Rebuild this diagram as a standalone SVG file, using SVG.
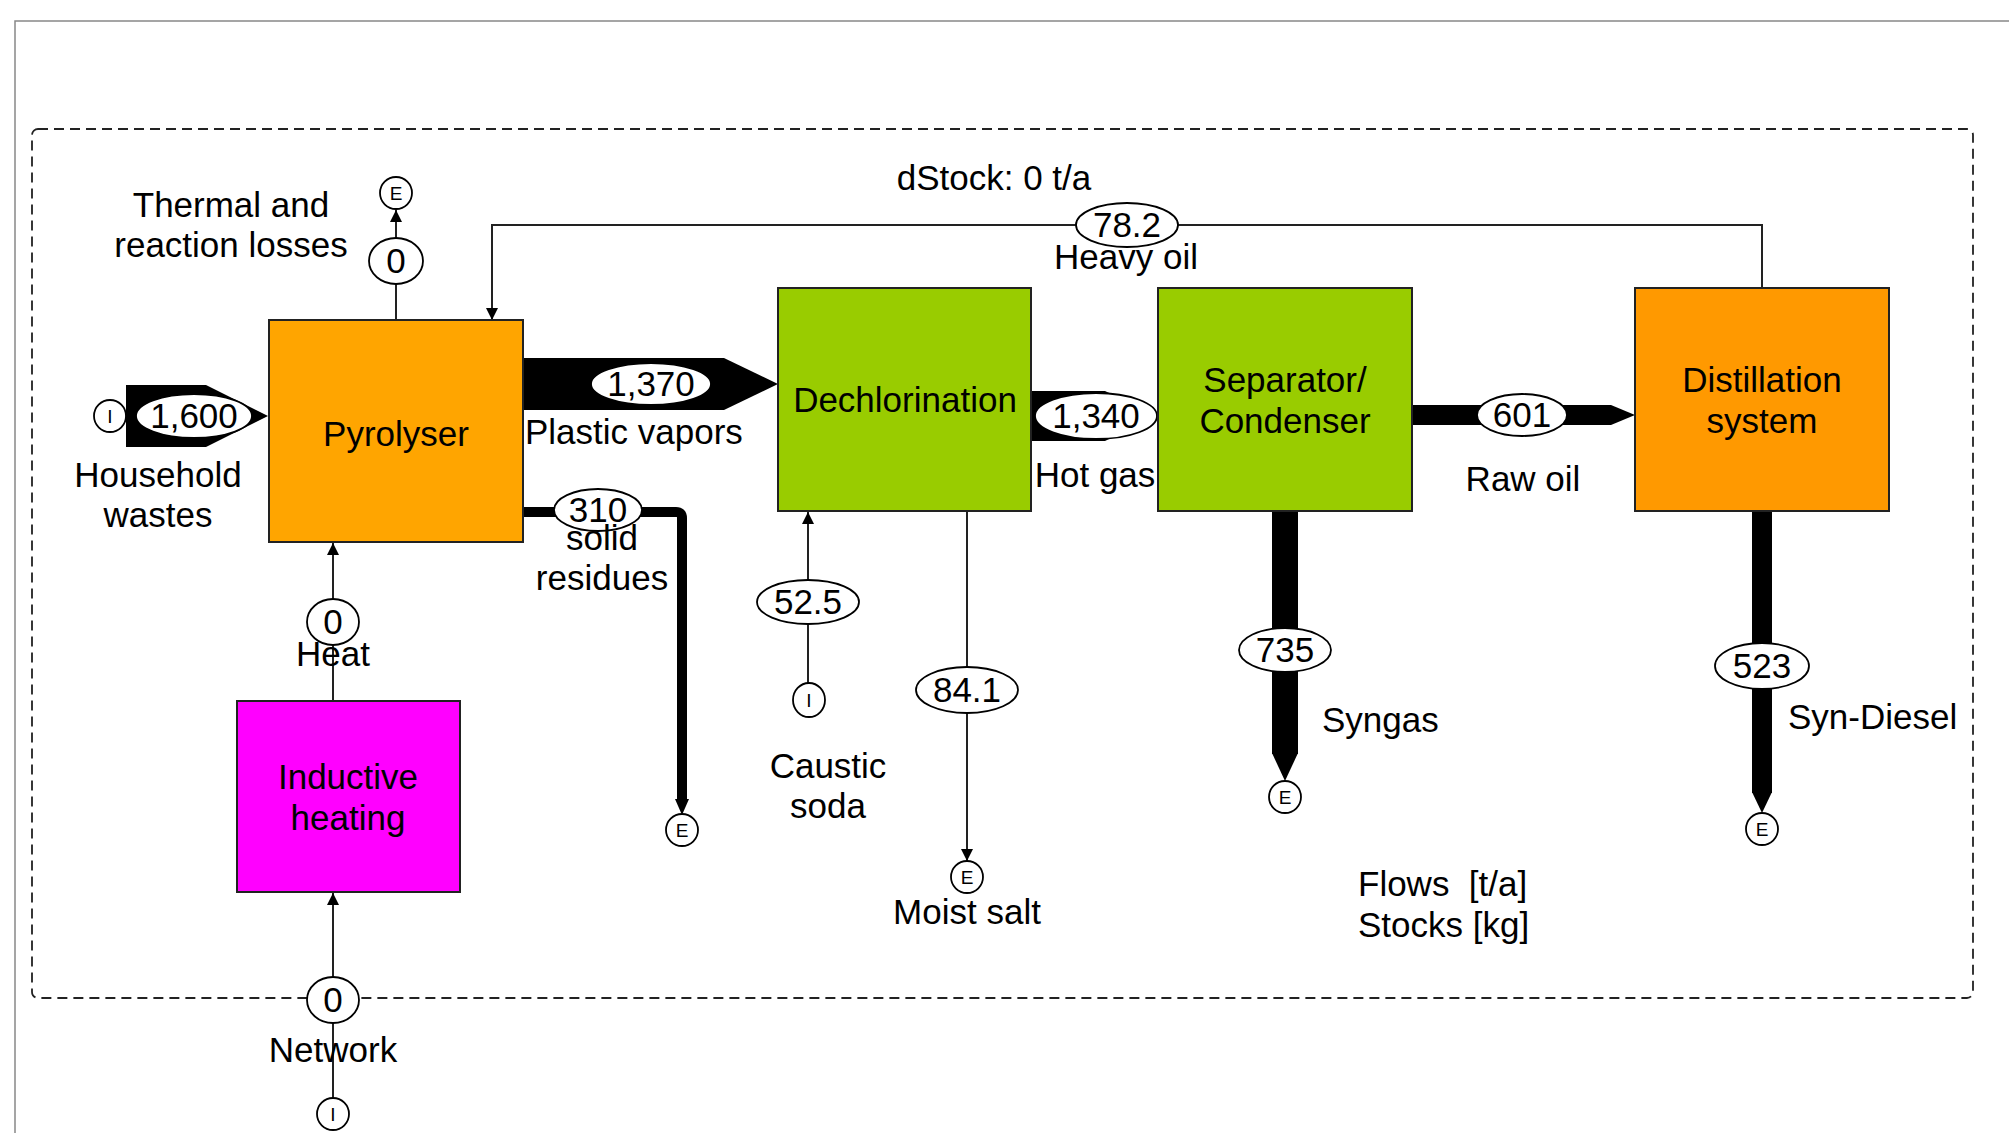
<svg xmlns="http://www.w3.org/2000/svg" width="2009" height="1133" viewBox="0 0 2009 1133">
<defs>
<style>
text{font-family:"Liberation Sans",Arial,sans-serif;fill:#000}
.t{font-size:35px;text-anchor:middle}
.ts{font-size:35px;text-anchor:start}
.s{font-size:19px;text-anchor:middle}
.box{stroke:#222;stroke-width:2}
.lbl{fill:#fff;stroke:#000;stroke-width:1.8}
.thin{fill:none;stroke:#222;stroke-width:2}
.thick{fill:#000;stroke:none}
</style>
<marker id="arr" markerWidth="12" markerHeight="12" refX="12" refY="6" orient="auto" markerUnits="userSpaceOnUse"><path d="M0,0 L12,6 L0,12 z" fill="#000"/></marker>
</defs>
<rect width="2009" height="1133" fill="#fff"/>
<path d="M15,1133 V21 H2009" fill="none" stroke="#888" stroke-width="1.5"/>
<rect x="32" y="129" width="1941" height="869" rx="6" fill="none" stroke="#222" stroke-width="1.8" stroke-dasharray="10,6"/>
<text class="t" x="994" y="190">dStock: 0 t/a</text>

<g id="connectors">
<polygon class="thick" points="126,385 206,385 268,416 206,447 126,447"/>
<polygon class="thick" points="523,358 724,358 778,384 724,410 523,410"/>
<polygon class="thick" points="1031,391 1105,391 1157,416 1105,441 1031,441"/>
<polygon class="thick" points="1412,405 1611,405 1635,415 1611,425 1412,425"/>
<path d="M523,512 H676 Q682,512 682,518 V800" fill="none" stroke="#000" stroke-width="10" stroke-linejoin="round"/>
<polygon class="thick" points="675,799 689,799 682,815"/>
<rect class="thick" x="1272" y="511" width="26" height="243"/>
<polygon class="thick" points="1272,753 1298,753 1285,781"/>
<rect class="thick" x="1752" y="511" width="20" height="282"/>
<polygon class="thick" points="1752,792 1772,792 1762,813"/>
<path class="thin" d="M1762,288 V225 H492 V320" marker-end="url(#arr)"/>
<path class="thin" d="M396,320 V210" marker-end="url(#arr)"/>
<path class="thin" d="M333,701 V543" marker-end="url(#arr)"/>
<path class="thin" d="M333,1098 V893" marker-end="url(#arr)"/>
<path class="thin" d="M808,684 V512" marker-end="url(#arr)"/>
<path class="thin" d="M967,511 V861" marker-end="url(#arr)"/>

<ellipse class="lbl" cx="194" cy="416" rx="58" ry="22"/><text class="t" x="194" y="428">1,600</text>
<ellipse class="lbl" cx="651" cy="384" rx="60" ry="21"/><text class="t" x="651" y="396">1,370</text>
<ellipse class="lbl" cx="598" cy="510" rx="44" ry="21"/><text class="t" x="598" y="522">310</text>
<ellipse class="lbl" cx="1096" cy="416" rx="61" ry="23"/><text class="t" x="1096" y="428">1,340</text>
<ellipse class="lbl" cx="1522" cy="415" rx="45" ry="21"/><text class="t" x="1522" y="427">601</text>
<ellipse class="lbl" cx="1127" cy="225" rx="51" ry="22"/><text class="t" x="1127" y="237">78.2</text>
<ellipse class="lbl" cx="396" cy="261" rx="27" ry="23"/><text class="t" x="396" y="273">0</text>
<ellipse class="lbl" cx="333" cy="622" rx="26" ry="23"/><text class="t" x="333" y="634">0</text>
<ellipse class="lbl" cx="333" cy="1000" rx="26" ry="23"/><text class="t" x="333" y="1012">0</text>
<ellipse class="lbl" cx="808" cy="602" rx="51" ry="22"/><text class="t" x="808" y="614">52.5</text>
<ellipse class="lbl" cx="967" cy="690" rx="51" ry="23"/><text class="t" x="967" y="702">84.1</text>
<ellipse class="lbl" cx="1285" cy="650" rx="46" ry="22"/><text class="t" x="1285" y="662">735</text>
<ellipse class="lbl" cx="1762" cy="666" rx="47" ry="23"/><text class="t" x="1762" y="678">523</text>

<ellipse class="lbl" cx="110" cy="416" rx="16" ry="16"/><text class="s" x="110" y="423">I</text>
<ellipse class="lbl" cx="396" cy="193" rx="16" ry="16"/><text class="s" x="396" y="200">E</text>
<ellipse class="lbl" cx="333" cy="1114" rx="16" ry="16"/><text class="s" x="333" y="1121">I</text>
<ellipse class="lbl" cx="809" cy="700" rx="16" ry="17"/><text class="s" x="809" y="707">I</text>
<ellipse class="lbl" cx="682" cy="830" rx="16" ry="16"/><text class="s" x="682" y="837">E</text>
<ellipse class="lbl" cx="967" cy="877" rx="16" ry="16"/><text class="s" x="967" y="884">E</text>
<ellipse class="lbl" cx="1285" cy="797" rx="16" ry="16"/><text class="s" x="1285" y="804">E</text>
<ellipse class="lbl" cx="1762" cy="829" rx="16" ry="16"/><text class="s" x="1762" y="836">E</text>

<text class="t" x="158" y="487">Household</text>
<text class="t" x="158" y="527">wastes</text>
<text class="ts" x="525" y="444">Plastic vapors</text>
<text class="t" x="602" y="550">solid</text>
<text class="t" x="602" y="590">residues</text>
<text class="t" x="1095" y="487">Hot gas</text>
<text class="t" x="1523" y="491">Raw oil</text>
<text class="t" x="1126" y="269">Heavy oil</text>
<text class="t" x="231" y="217">Thermal and</text>
<text class="t" x="231" y="257">reaction losses</text>
<text class="t" x="333" y="666">Heat</text>
<text class="t" x="333" y="1062">Network</text>
<text class="t" x="828" y="778">Caustic</text>
<text class="t" x="828" y="818">soda</text>
<text class="t" x="967" y="924">Moist salt</text>
<text class="ts" x="1322" y="732">Syngas</text>
<text class="ts" x="1788" y="729">Syn-Diesel</text>
</g>

<g id="pyrolyser"><rect class="box" x="269" y="320" width="254" height="222" fill="#FFA500"/><text class="t" x="396" y="446">Pyrolyser</text></g>
<g id="dechlorination"><rect class="box" x="778" y="288" width="253" height="223" fill="#99CC00"/><text class="t" x="905" y="412">Dechlorination</text></g>
<g id="separator"><rect class="box" x="1158" y="288" width="254" height="223" fill="#99CC00"/><text class="t" x="1285" y="392">Separator/</text><text class="t" x="1285" y="433">Condenser</text></g>
<g id="distillation"><rect class="box" x="1635" y="288" width="254" height="223" fill="#FF9900"/><text class="t" x="1762" y="392">Distillation</text><text class="t" x="1762" y="433">system</text></g>
<g id="inductive"><rect class="box" x="237" y="701" width="223" height="191" fill="#FF00FF"/><text class="t" x="348" y="789">Inductive</text><text class="t" x="348" y="830">heating</text></g>

<text class="ts" x="1358" y="896" style="white-space:pre">Flows  [t/a]</text>
<text class="ts" x="1358" y="937">Stocks [kg]</text>
</svg>
